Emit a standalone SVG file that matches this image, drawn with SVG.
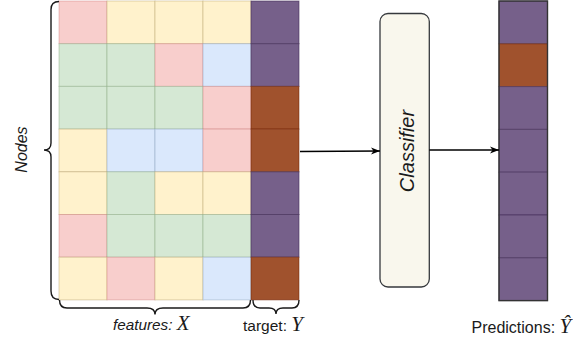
<svg xmlns="http://www.w3.org/2000/svg" width="573" height="345" viewBox="0 0 573 345">
<style>
.p{fill:#f8cecc;stroke:#b85450;stroke-opacity:.3}
.y{fill:#fff2cc;stroke:#b5a06a;stroke-opacity:.45}
.g{fill:#d5e8d4;stroke:#7f9f76;stroke-opacity:.4}
.b{fill:#dae8fc;stroke:#7f95b3;stroke-opacity:.4}
.u{fill:#76608a;stroke:#432d57;stroke-opacity:.6}
.r{fill:#a0522d;stroke:#6d1f00;stroke-opacity:.5}
.brace{fill:none;stroke:#1a1a1a;stroke-width:1.4}
.conn{fill:none;stroke:#000;stroke-width:1.3}
.lbl{font-family:"Liberation Sans",Arial,sans-serif;fill:#1a1a1a}
.math{font-family:"Liberation Serif","Times New Roman",serif;font-style:italic;font-size:21px}
</style>
<defs>
<marker id="arr" markerWidth="10" markerHeight="8" refX="9" refY="4" orient="auto" markerUnits="userSpaceOnUse">
<path d="M0,0.5 L9,4 L0,7.5 L2.5,4 Z" fill="#000"/>
</marker>
</defs>
<rect width="573" height="345" fill="#fff"/>
<g id="features">
<rect class="p" x="59" y="1" width="48" height="42.7"/><rect class="y" x="107" y="1" width="48" height="42.7"/><rect class="y" x="155" y="1" width="48" height="42.7"/><rect class="y" x="203" y="1" width="48" height="42.7"/>
<rect class="g" x="59" y="43.7" width="48" height="42.7"/><rect class="g" x="107" y="43.7" width="48" height="42.7"/><rect class="p" x="155" y="43.7" width="48" height="42.7"/><rect class="b" x="203" y="43.7" width="48" height="42.7"/>
<rect class="g" x="59" y="86.4" width="48" height="42.7"/><rect class="g" x="107" y="86.4" width="48" height="42.7"/><rect class="g" x="155" y="86.4" width="48" height="42.7"/><rect class="p" x="203" y="86.4" width="48" height="42.7"/>
<rect class="y" x="59" y="129.1" width="48" height="42.7"/><rect class="b" x="107" y="129.1" width="48" height="42.7"/><rect class="b" x="155" y="129.1" width="48" height="42.7"/><rect class="p" x="203" y="129.1" width="48" height="42.7"/>
<rect class="y" x="59" y="171.8" width="48" height="42.7"/><rect class="g" x="107" y="171.8" width="48" height="42.7"/><rect class="y" x="155" y="171.8" width="48" height="42.7"/><rect class="y" x="203" y="171.8" width="48" height="42.7"/>
<rect class="p" x="59" y="214.5" width="48" height="42.7"/><rect class="g" x="107" y="214.5" width="48" height="42.7"/><rect class="g" x="155" y="214.5" width="48" height="42.7"/><rect class="g" x="203" y="214.5" width="48" height="42.7"/>
<rect class="y" x="59" y="257.2" width="48" height="42.7"/><rect class="p" x="107" y="257.2" width="48" height="42.7"/><rect class="y" x="155" y="257.2" width="48" height="42.7"/><rect class="b" x="203" y="257.2" width="48" height="42.7"/>
</g>
<g id="target">
<rect class="u" x="251" y="1" width="48" height="42.7"/>
<rect class="u" x="251" y="43.7" width="48" height="42.7"/>
<rect class="r" x="251" y="86.4" width="48" height="42.7"/>
<rect class="r" x="251" y="129.1" width="48" height="42.7"/>
<rect class="u" x="251" y="171.8" width="48" height="42.7"/>
<rect class="u" x="251" y="214.5" width="48" height="42.7"/>
<rect class="r" x="251" y="257.2" width="48" height="42.7"/>
</g>
<g id="braces">
<path class="brace" d="M59,1.5 Q51,1.5 51,9.5 L51,143 Q51,150 44,150 Q51,150 51,157 L51,291 Q51,299.5 59,299.5"/>
<path class="brace" d="M59.5,300 Q59.5,308 67,308 L147,308 Q155,308 155,314.5 Q155,308 163,308 L243,308 Q250.5,308 250.5,300"/>
<path class="brace" d="M253,300 Q253,308 260,308 L269,308 Q276,308 276,314 Q276,308 283,308 L292,308 Q299,308 299,300"/>
</g>
<g id="labels">
<text class="lbl" transform="translate(26.5,149.5) rotate(-90)" text-anchor="middle" font-size="16" font-style="italic">Nodes</text>
<text class="lbl" x="113" y="330" font-size="15.3" font-style="italic">features: <tspan class="math">X</tspan></text>
<text class="lbl" x="243" y="330.5" font-size="15.5">target: <tspan class="math">Y</tspan></text>
<text class="lbl" x="471.5" y="333" font-size="16">Predictions: <tspan class="math">Ŷ</tspan></text>
</g>
<g id="classifier">
<rect x="380" y="13.5" width="49.3" height="273.5" rx="8" ry="8" fill="#f9f7ed" stroke="#36393d" stroke-width="1.3"/>
<text class="lbl" transform="translate(413.5,151) rotate(-90)" text-anchor="middle" font-size="20" font-style="italic">Classifier</text>
</g>
<g id="predictions">
<rect class="u" x="499" y="1" width="48.5" height="42.8"/>
<rect class="r" x="499" y="43.8" width="48.5" height="42.8"/>
<rect class="u" x="499" y="86.6" width="48.5" height="42.8"/>
<rect class="u" x="499" y="129.4" width="48.5" height="42.8"/>
<rect class="u" x="499" y="172.2" width="48.5" height="42.8"/>
<rect class="u" x="499" y="215" width="48.5" height="42.8"/>
<rect class="u" x="499" y="257.8" width="48.5" height="42.8"/>
<rect x="499" y="1" width="48.5" height="299.6" fill="none" stroke="#333" stroke-width="1.4"/>
</g>
<g id="connectors">
<path class="conn" d="M300,151.5 L380,151" marker-end="url(#arr)"/>
<path class="conn" d="M429.3,150 L499,150" marker-end="url(#arr)"/>
</g>
</svg>
